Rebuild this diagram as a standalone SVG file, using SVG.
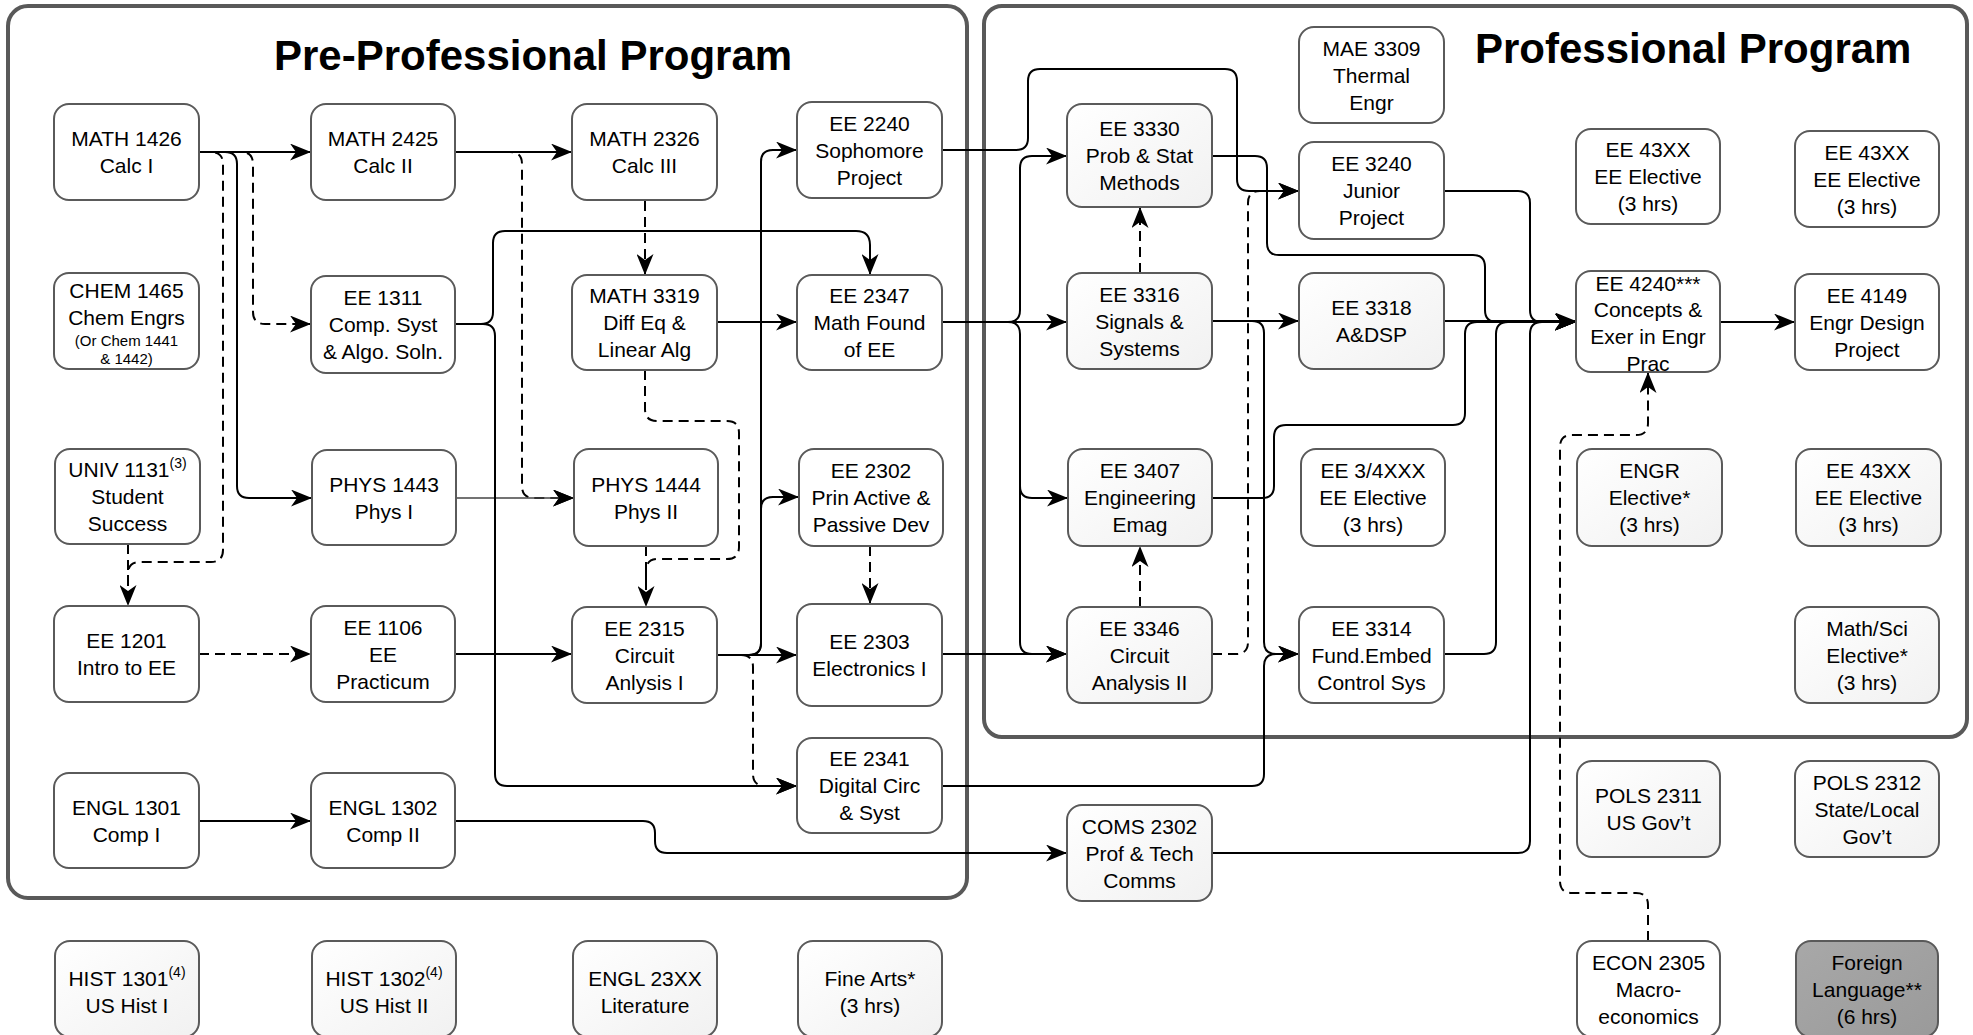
<svg xmlns="http://www.w3.org/2000/svg" width="1973" height="1035" viewBox="0 0 1973 1035">
<style>
.bx{fill:#fff;stroke:#5a5a5a;stroke-width:2}
.sh{fill:url(#grad);stroke:#5a5a5a;stroke-width:2}
.fl{fill:url(#gray);stroke:#5a5a5a;stroke-width:2}
.ct{fill:none;stroke:#595959;stroke-width:4}
.t{font-family:"Liberation Sans",Arial,sans-serif;font-size:21px;fill:#000;text-anchor:middle}
.s{font-size:15px}
.sup{font-size:14px}
.ttl{font-family:"Liberation Sans",Arial,sans-serif;font-size:42px;font-weight:bold;fill:#000}
.c{fill:none;stroke:#000;stroke-width:2;marker-end:url(#ah)}
.cn{fill:none;stroke:#000;stroke-width:2}
.d{stroke-dasharray:10 6}
</style>
<defs>
<linearGradient id="grad" x1="0" y1="0" x2="1" y2="1">
<stop offset="0" stop-color="#ffffff"/>
<stop offset="1" stop-color="#f1f1f1"/>
</linearGradient>
<linearGradient id="gray" x1="0" y1="0" x2="1" y2="1">
<stop offset="0" stop-color="#a8a8a8"/>
<stop offset="1" stop-color="#9a9a9a"/>
</linearGradient>
<marker id="ah" markerUnits="userSpaceOnUse" markerWidth="21" markerHeight="17" refX="21" refY="8.5" orient="auto">
<path d="M0,0 L21,8.5 L0,17 L6,8.5 Z" fill="#000"/>
</marker>
</defs>
<rect width="1973" height="1035" fill="#fff"/>

<g id="containers">
<rect class="ct" x="8" y="6" width="959" height="892" rx="20"/>
<rect class="ct" x="984" y="6" width="983" height="731" rx="18"/>
<text class="ttl" x="274" y="70">Pre-Professional Program</text>
<text class="ttl" x="1475" y="63">Professional Program</text>
</g>

<g id="connectors">
<path class="c" d="M199,152 H311"/>
<path class="cn d" d="M199,152 H211 Q223,152 223,164 V550 Q223,562 211,562 H140 Q128,562 128,574 V590"/>
<path class="c d" d="M128,544 V606"/>
<path class="c" d="M199,152 H225 Q237,152 237,164 V486 Q237,498 249,498 H312"/>
<path class="c d" d="M199,152 H241 Q253,152 253,164 V312 Q253,324 265,324 H311"/>
<path class="c" d="M455,152 H572"/>
<path class="c d" d="M455,152 H510 Q522,152 522,164 V486 Q522,498 534,498 H574"/>
<path d="M456,498 H574" fill="none" stroke="#444" stroke-width="1.6" marker-end="url(#ah)"/>
<path class="c d" d="M645,201 V275"/>
<path class="c" d="M455,324 H481 Q493,324 493,312 V243 Q493,231 505,231 H856 Q870,231 870,245 V275"/>
<path class="c" d="M455,324 H483 Q495,324 495,336 V774 Q495,786 507,786 H797"/>
<path class="c" d="M717,322 H797"/>
<path class="cn d" d="M645,370 V409 Q645,421 657,421 H727 Q739,421 739,433 V547 Q739,559 727,559 H658 Q646,559 646,571 V590"/>
<path class="c d" d="M646,546 V607"/>
<path class="c d" d="M199,654 H311"/>
<path class="c" d="M455,654 H572"/>
<path class="c" d="M717,655 H797"/>
<path class="c" d="M717,655 H749 Q761,655 761,643 V162 Q761,150 773,150 H797"/>
<path class="c" d="M749,655 Q761,655 761,643 V509 Q761,497 773,497 H799"/>
<path class="c d" d="M741,655 Q753,655 753,667 V774 Q753,786 765,786 H797"/>
<path class="c d" d="M870,546 V604"/>
<path class="c" d="M199,821 H311"/>
<path class="c" d="M455,821 H643 Q655,821 655,833 V841 Q655,853 667,853 H1067"/>
<path class="c" d="M942,150 H1016 Q1028,150 1028,138 V81 Q1028,69 1040,69 H1225 Q1237,69 1237,81 V179 Q1237,191 1249,191 H1299"/>
<path class="c" d="M942,322 H1067"/>
<path class="c" d="M942,322 H1008 Q1020,322 1020,310 V168 Q1020,156 1032,156 H1067"/>
<path class="c" d="M1008,322 Q1020,322 1020,334 V486 Q1020,498 1032,498 H1068"/>
<path class="c" d="M1020,486 V642 Q1020,654 1032,654 H1067"/>
<path class="c" d="M942,654 H1067"/>
<path class="c d" d="M1140,273 V207"/>
<path class="c d" d="M1140,607 V546"/>
<path class="c" d="M1212,321 H1299"/>
<path class="c" d="M1212,321 H1252 Q1264,321 1264,333 V642 Q1264,654 1276,654 H1299"/>
<path class="c" d="M942,786 H1252 Q1264,786 1264,774 V666 Q1264,654 1276,654 H1299"/>
<path class="c d" d="M1212,654 H1236 Q1248,654 1248,642 V203 Q1248,191 1260,191 H1299"/>
<path class="c" d="M1212,156 H1255 Q1267,156 1267,168 V243 Q1267,255 1279,255 H1473 Q1485,255 1485,267 V310 Q1485,322 1497,322 H1576"/>
<path class="c" d="M1444,191 H1518 Q1530,191 1530,203 V310 Q1530,322 1542,322 H1576"/>
<path class="c" d="M1444,321 H1576"/>
<path class="c" d="M1212,498 H1262 Q1274,498 1274,486 V437 Q1274,425 1286,425 H1453 Q1465,425 1465,413 V334 Q1465,322 1477,322 H1576"/>
<path class="c" d="M1444,654 H1484 Q1496,654 1496,642 V334 Q1496,322 1508,322 H1576"/>
<path class="c" d="M1212,853 H1518 Q1530,853 1530,841 V334 Q1530,322 1542,322 H1576"/>
<path class="c" d="M1720,322 H1795"/>
<path class="c d" d="M1648,941 V905 Q1648,893 1636,893 H1572 Q1560,893 1560,881 V447 Q1560,435 1572,435 H1636 Q1648,435 1648,423 V372"/>
</g>

<g id="math1426"><rect class="bx" x="54" y="104" width="145" height="96" rx="15"/><text class="t"><tspan x="126.5" y="146">MATH 1426</tspan><tspan x="126.5" y="173">Calc I</tspan></text></g>
<g id="math2425"><rect class="bx" x="311" y="104" width="144" height="96" rx="15"/><text class="t"><tspan x="383" y="146">MATH 2425</tspan><tspan x="383" y="173">Calc II</tspan></text></g>
<g id="math2326"><rect class="bx" x="572" y="104" width="145" height="96" rx="15"/><text class="t"><tspan x="644.5" y="146">MATH 2326</tspan><tspan x="644.5" y="173">Calc III</tspan></text></g>
<g id="ee2240"><rect class="bx" x="797" y="102" width="145" height="96" rx="15"/><text class="t"><tspan x="869.5" y="130.5">EE 2240</tspan><tspan x="869.5" y="157.5">Sophomore</tspan><tspan x="869.5" y="184.5">Project</tspan></text></g>
<g id="ee3330"><rect class="sh" x="1067" y="104" width="145" height="103" rx="15"/><text class="t"><tspan x="1139.5" y="136">EE 3330</tspan><tspan x="1139.5" y="163">Prob &amp; Stat</tspan><tspan x="1139.5" y="190">Methods</tspan></text></g>
<g id="mae3309"><rect class="bx" x="1299" y="27" width="145" height="96" rx="15"/><text class="t"><tspan x="1371.5" y="55.5">MAE 3309</tspan><tspan x="1371.5" y="82.5">Thermal</tspan><tspan x="1371.5" y="109.5">Engr</tspan></text></g>
<g id="ee3240"><rect class="bx" x="1299" y="142" width="145" height="97" rx="15"/><text class="t"><tspan x="1371.5" y="171">EE 3240</tspan><tspan x="1371.5" y="198">Junior</tspan><tspan x="1371.5" y="225">Project</tspan></text></g>
<g id="ee43xx-a"><rect class="bx" x="1576" y="129" width="144" height="95" rx="15"/><text class="t"><tspan x="1648" y="157">EE 43XX</tspan><tspan x="1648" y="184">EE Elective</tspan><tspan x="1648" y="211">(3 hrs)</tspan></text></g>
<g id="ee43xx-b"><rect class="bx" x="1795" y="131" width="144" height="96" rx="15"/><text class="t"><tspan x="1867" y="159.5">EE 43XX</tspan><tspan x="1867" y="186.5">EE Elective</tspan><tspan x="1867" y="213.5">(3 hrs)</tspan></text></g>

<g id="chem1465"><rect class="bx" x="54" y="273" width="145" height="96" rx="15"/><text class="t"><tspan x="126.5" y="297.5">CHEM 1465</tspan><tspan x="126.5" y="324.5">Chem Engrs</tspan><tspan class="s" x="126.5" y="345.5">(Or Chem 1441</tspan><tspan class="s" x="126.5" y="363.5">&amp; 1442)</tspan></text></g>
<g id="ee1311"><rect class="bx" x="311" y="276" width="144" height="97" rx="15"/><text class="t"><tspan x="383" y="305">EE 1311</tspan><tspan x="383" y="332">Comp. Syst</tspan><tspan x="383" y="359">&amp; Algo. Soln.</tspan></text></g>
<g id="math3319"><rect class="bx" x="572" y="275" width="145" height="95" rx="15"/><text class="t"><tspan x="644.5" y="303">MATH 3319</tspan><tspan x="644.5" y="330">Diff Eq &amp;</tspan><tspan x="644.5" y="357">Linear Alg</tspan></text></g>
<g id="ee2347"><rect class="bx" x="797" y="275" width="145" height="95" rx="15"/><text class="t"><tspan x="869.5" y="303">EE 2347</tspan><tspan x="869.5" y="330">Math Found</tspan><tspan x="869.5" y="357">of EE</tspan></text></g>
<g id="ee3316"><rect class="sh" x="1067" y="273" width="145" height="96" rx="15"/><text class="t"><tspan x="1139.5" y="301.5">EE 3316</tspan><tspan x="1139.5" y="328.5">Signals &amp;</tspan><tspan x="1139.5" y="355.5">Systems</tspan></text></g>
<g id="ee3318"><rect class="sh" x="1299" y="273" width="145" height="96" rx="15"/><text class="t"><tspan x="1371.5" y="315">EE 3318</tspan><tspan x="1371.5" y="342">A&amp;DSP</tspan></text></g>
<g id="ee4240"><rect class="bx" x="1576" y="271" width="144" height="101" rx="15"/><text class="t"><tspan x="1648" y="290.5">EE 4240***</tspan><tspan x="1648" y="317.2">Concepts &amp;</tspan><tspan x="1648" y="343.9">Exer in Engr</tspan><tspan x="1648" y="370.6">Prac</tspan></text></g>
<g id="ee4149"><rect class="bx" x="1795" y="274" width="144" height="96" rx="15"/><text class="t"><tspan x="1867" y="302.5">EE 4149</tspan><tspan x="1867" y="329.5">Engr Design</tspan><tspan x="1867" y="356.5">Project</tspan></text></g>

<g id="univ1131"><rect class="bx" x="55" y="449" width="145" height="95" rx="15"/><text class="t"><tspan x="127.5" y="477">UNIV 1131<tspan class="sup" dy="-9">(3)</tspan></tspan><tspan x="127.5" y="504">Student</tspan><tspan x="127.5" y="531">Success</tspan></text></g>
<g id="phys1443"><rect class="bx" x="312" y="450" width="144" height="95" rx="15"/><text class="t"><tspan x="384" y="491.5">PHYS 1443</tspan><tspan x="384" y="518.5">Phys I</tspan></text></g>
<g id="phys1444"><rect class="bx" x="574" y="449" width="144" height="97" rx="15"/><text class="t"><tspan x="646" y="491.5">PHYS 1444</tspan><tspan x="646" y="518.5">Phys II</tspan></text></g>
<g id="ee2302"><rect class="bx" x="799" y="449" width="144" height="97" rx="15"/><text class="t"><tspan x="871" y="478">EE 2302</tspan><tspan x="871" y="505">Prin Active &amp;</tspan><tspan x="871" y="532">Passive Dev</tspan></text></g>
<g id="ee3407"><rect class="sh" x="1068" y="449" width="144" height="97" rx="15"/><text class="t"><tspan x="1140" y="478">EE 3407</tspan><tspan x="1140" y="505">Engineering</tspan><tspan x="1140" y="532">Emag</tspan></text></g>
<g id="ee34xxx"><rect class="bx" x="1301" y="449" width="144" height="97" rx="15"/><text class="t"><tspan x="1373" y="478">EE 3/4XXX</tspan><tspan x="1373" y="505">EE Elective</tspan><tspan x="1373" y="532">(3 hrs)</tspan></text></g>
<g id="engr-elective"><rect class="sh" x="1577" y="449" width="145" height="97" rx="15"/><text class="t"><tspan x="1649.5" y="478">ENGR</tspan><tspan x="1649.5" y="505">Elective*</tspan><tspan x="1649.5" y="532">(3 hrs)</tspan></text></g>
<g id="ee43xx-c"><rect class="sh" x="1796" y="449" width="145" height="97" rx="15"/><text class="t"><tspan x="1868.5" y="478">EE 43XX</tspan><tspan x="1868.5" y="505">EE Elective</tspan><tspan x="1868.5" y="532">(3 hrs)</tspan></text></g>

<g id="ee1201"><rect class="bx" x="54" y="606" width="145" height="96" rx="15"/><text class="t"><tspan x="126.5" y="648">EE 1201</tspan><tspan x="126.5" y="675">Intro to EE</tspan></text></g>
<g id="ee1106"><rect class="bx" x="311" y="606" width="144" height="96" rx="15"/><text class="t"><tspan x="383" y="634.5">EE 1106</tspan><tspan x="383" y="661.5">EE</tspan><tspan x="383" y="688.5">Practicum</tspan></text></g>
<g id="ee2315"><rect class="bx" x="572" y="607" width="145" height="96" rx="15"/><text class="t"><tspan x="644.5" y="635.5">EE 2315</tspan><tspan x="644.5" y="662.5">Circuit</tspan><tspan x="644.5" y="689.5">Anlysis I</tspan></text></g>
<g id="ee2303"><rect class="bx" x="797" y="604" width="145" height="102" rx="15"/><text class="t"><tspan x="869.5" y="649">EE 2303</tspan><tspan x="869.5" y="676">Electronics I</tspan></text></g>
<g id="ee3346"><rect class="sh" x="1067" y="607" width="145" height="96" rx="15"/><text class="t"><tspan x="1139.5" y="635.5">EE 3346</tspan><tspan x="1139.5" y="662.5">Circuit</tspan><tspan x="1139.5" y="689.5">Analysis II</tspan></text></g>
<g id="ee3314"><rect class="bx" x="1299" y="607" width="145" height="96" rx="15"/><text class="t"><tspan x="1371.5" y="635.5">EE 3314</tspan><tspan x="1371.5" y="662.5">Fund.Embed</tspan><tspan x="1371.5" y="689.5">Control Sys</tspan></text></g>
<g id="mathsci-elective"><rect class="sh" x="1795" y="607" width="144" height="96" rx="15"/><text class="t"><tspan x="1867" y="635.5">Math/Sci</tspan><tspan x="1867" y="662.5">Elective*</tspan><tspan x="1867" y="689.5">(3 hrs)</tspan></text></g>

<g id="engl1301"><rect class="bx" x="54" y="773" width="145" height="95" rx="15"/><text class="t"><tspan x="126.5" y="814.5">ENGL 1301</tspan><tspan x="126.5" y="841.5">Comp I</tspan></text></g>
<g id="engl1302"><rect class="bx" x="311" y="773" width="144" height="95" rx="15"/><text class="t"><tspan x="383" y="814.5">ENGL 1302</tspan><tspan x="383" y="841.5">Comp II</tspan></text></g>
<g id="ee2341"><rect class="bx" x="797" y="738" width="145" height="95" rx="15"/><text class="t"><tspan x="869.5" y="766">EE 2341</tspan><tspan x="869.5" y="793">Digital Circ</tspan><tspan x="869.5" y="820">&amp; Syst</tspan></text></g>
<g id="coms2302"><rect class="sh" x="1067" y="805" width="145" height="96" rx="15"/><text class="t"><tspan x="1139.5" y="833.5">COMS 2302</tspan><tspan x="1139.5" y="860.5">Prof &amp; Tech</tspan><tspan x="1139.5" y="887.5">Comms</tspan></text></g>
<g id="pols2311"><rect class="sh" x="1577" y="761" width="143" height="96" rx="15"/><text class="t"><tspan x="1648.5" y="803">POLS 2311</tspan><tspan x="1648.5" y="830">US Gov’t</tspan></text></g>
<g id="pols2312"><rect class="sh" x="1795" y="761" width="144" height="96" rx="15"/><text class="t"><tspan x="1867" y="789.5">POLS 2312</tspan><tspan x="1867" y="816.5">State/Local</tspan><tspan x="1867" y="843.5">Gov’t</tspan></text></g>

<g id="hist1301"><rect class="sh" x="55" y="941" width="144" height="96" rx="15"/><text class="t"><tspan x="127" y="986">HIST 1301<tspan class="sup" dy="-9">(4)</tspan></tspan><tspan x="127" y="1013">US Hist I</tspan></text></g>
<g id="hist1302"><rect class="sh" x="312" y="941" width="144" height="96" rx="15"/><text class="t"><tspan x="384" y="986">HIST 1302<tspan class="sup" dy="-9">(4)</tspan></tspan><tspan x="384" y="1013">US Hist II</tspan></text></g>
<g id="engl23xx"><rect class="sh" x="573" y="941" width="144" height="96" rx="15"/><text class="t"><tspan x="645" y="986">ENGL 23XX</tspan><tspan x="645" y="1013">Literature</tspan></text></g>
<g id="fine-arts"><rect class="sh" x="798" y="941" width="144" height="96" rx="15"/><text class="t"><tspan x="870" y="986">Fine Arts*</tspan><tspan x="870" y="1013">(3 hrs)</tspan></text></g>
<g id="econ2305"><rect class="bx" x="1577" y="941" width="143" height="96" rx="15"/><text class="t"><tspan x="1648.5" y="969.5">ECON 2305</tspan><tspan x="1648.5" y="996.5">Macro-</tspan><tspan x="1648.5" y="1023.5">economics</tspan></text></g>
<g id="foreign-language"><rect class="fl" x="1796" y="941" width="142" height="96" rx="15"/><text class="t"><tspan x="1867" y="969.5">Foreign</tspan><tspan x="1867" y="996.5">Language**</tspan><tspan x="1867" y="1023.5">(6 hrs)</tspan></text></g>
</svg>
